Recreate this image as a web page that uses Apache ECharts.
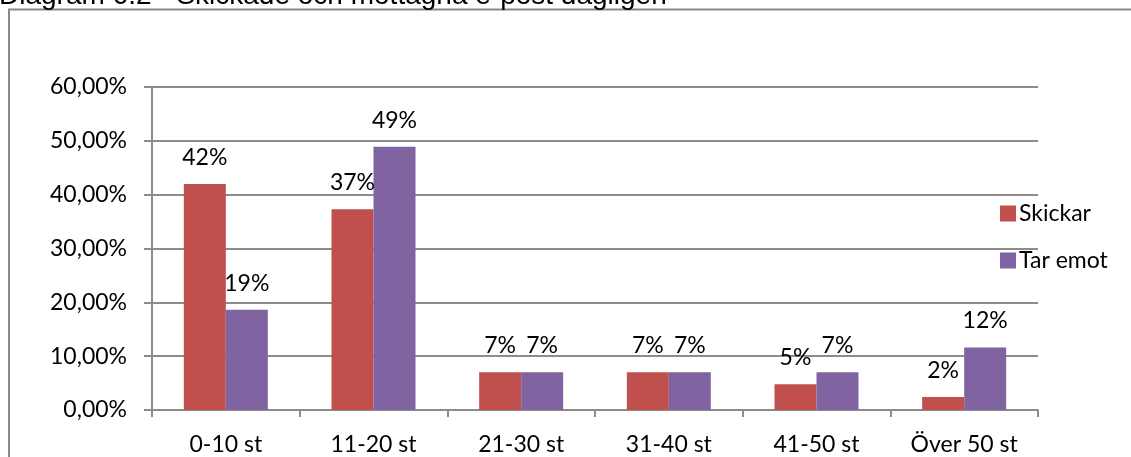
<!DOCTYPE html>
<html>
<head>
<meta charset="utf-8">
<script src="https://cdn.jsdelivr.net/npm/echarts@6/dist/echarts.min.js"></script>
<style>
  html, body { margin: 0; padding: 0; background: #ffffff; }
  #chart { width: 1131px; height: 457px; }
</style>
</head>
<body>
<div id="chart"></div>
<script>
// Daily e-mail volume per person: share of respondents by bucket
const categories = ['0-10 st', '11-20 st', '21-30 st', '31-40 st', '41-50 st', 'Över 50 st'];
const skickar = [0.42, 0.373, 0.07, 0.07, 0.048, 0.024];
const tarEmot = [0.186, 0.489, 0.07, 0.07, 0.07, 0.116];
const yTicks = { min: 0, max: 0.6, interval: 0.1 };
const titleText = 'Diagram 6.2 - Skickade och mottagna e-post dagligen';

const FONT = 'Lato, "Noto Sans", sans-serif';
const AXIS_GRAY = '#8c8c8c';

const chart = echarts.init(document.getElementById('chart'), null, { renderer: 'canvas' });

const pctLabel = {
  show: true,
  position: 'top',
  distance: 15,
  color: '#000',
  fontFamily: FONT,
  fontSize: 23,
  formatter: p => Math.round(p.value * 100) + '%'
};

chart.setOption({
  animation: false,
  backgroundColor: '#ffffff',
  graphic: [
    {
      type: 'rect',
      z: 0,
      shape: { x: 9, y: 9.5, width: 1200, height: 500 },
      style: { fill: 'none', stroke: '#888888', lineWidth: 2 }
    },
    {
      type: 'text',
      z: 10,
      x: -1,
      y: -4,
      style: {
        text: titleText,
        font: '28px "Liberation Sans", Arial, sans-serif',
        fill: '#000000',
        verticalAlign: 'middle',
        align: 'left'
      }
    }
  ],
  grid: { left: 152, right: 93, top: 87, bottom: 47, containLabel: false },
  legend: {
    orient: 'vertical',
    left: 995,
    top: 197,
    itemWidth: 16,
    itemHeight: 16,
    itemGap: 24,
    icon: 'rect',
    textStyle: { fontFamily: FONT, fontSize: 23, color: '#000', padding: [0, 0, 0, -2] },
    data: ['Skickar', 'Tar emot']
  },
  xAxis: {
    type: 'category',
    data: categories,
    boundaryGap: true,
    axisLine: { show: true, lineStyle: { color: AXIS_GRAY, width: 2 } },
    axisTick: { show: true, inside: false, length: 7, alignWithLabel: false, lineStyle: { color: AXIS_GRAY, width: 2 } },
    axisLabel: { margin: 23, color: '#000', fontFamily: FONT, fontSize: 23 },
    splitLine: { show: false }
  },
  yAxis: {
    type: 'value',
    min: yTicks.min,
    max: yTicks.max,
    interval: yTicks.interval,
    axisLine: { show: true, lineStyle: { color: AXIS_GRAY, width: 2 } },
    axisTick: { show: true, inside: false, length: 8, lineStyle: { color: AXIS_GRAY, width: 2 } },
    axisLabel: {
      margin: 25,
      color: '#000',
      fontFamily: FONT,
      fontSize: 23,
      formatter: v => (v * 100).toFixed(2).replace('.', ',') + '%'
    },
    splitLine: { show: true, lineStyle: { color: AXIS_GRAY, width: 2 } }
  },
  series: [
    {
      name: 'Skickar',
      type: 'bar',
      data: skickar,
      barWidth: 42,
      barGap: '0%',
      itemStyle: { color: '#C0504D' },
      label: pctLabel
    },
    {
      name: 'Tar emot',
      type: 'bar',
      data: tarEmot,
      barWidth: 42,
      barGap: '0%',
      itemStyle: { color: '#8064A2' },
      label: pctLabel
    }
  ]
});
</script>
</body>
</html>
